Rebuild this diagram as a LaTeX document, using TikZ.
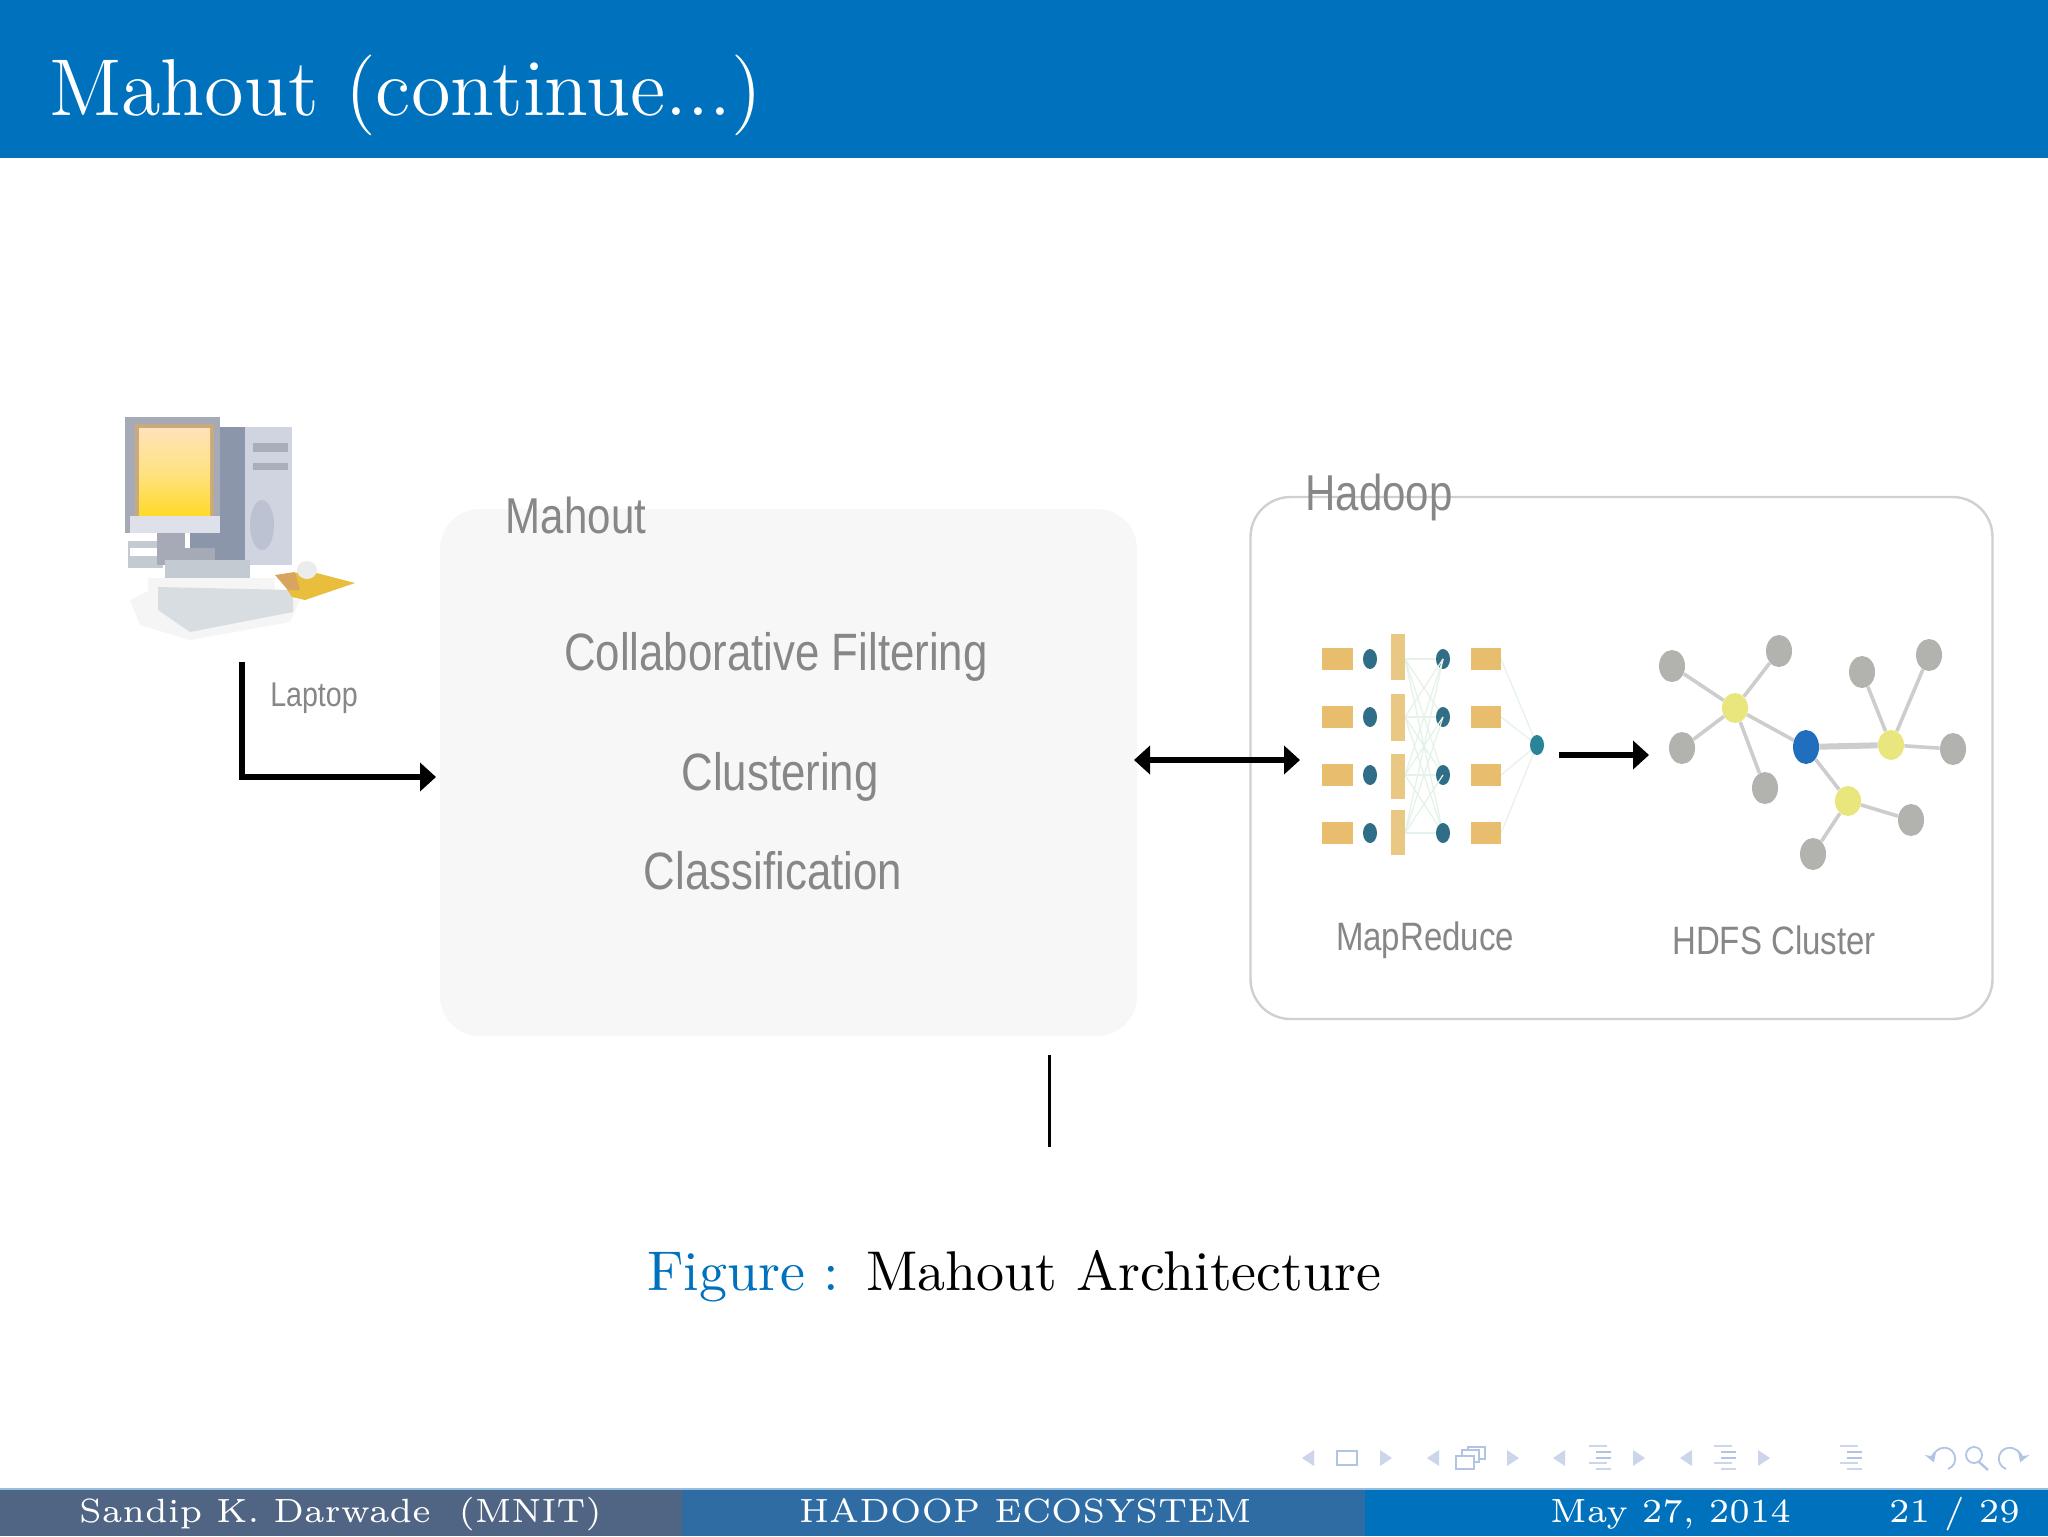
\documentclass[tikz,border=0pt]{standalone}
\usepackage{fontspec}
\newfontfamily\lblfont{Liberation Sans}
\usetikzlibrary{arrows.meta,shapes.geometric}
\definecolor{barblue}{RGB}{0,113,188}
\definecolor{foota}{RGB}{79,101,131}
\definecolor{footb}{RGB}{47,108,163}
\definecolor{footline}{RGB}{150,190,222}
\definecolor{boxgrey}{RGB}{247,247,248}
\definecolor{framegrey}{RGB}{208,208,210}
\definecolor{lblgrey}{RGB}{135,135,137}
\definecolor{mrorange}{RGB}{232,190,110}
\definecolor{mrbar}{RGB}{232,200,130}
\definecolor{mrdot}{RGB}{48,110,135}
\definecolor{mrline}{RGB}{228,242,232}
\definecolor{hgrey}{RGB}{178,178,174}
\definecolor{hyellow}{RGB}{232,230,125}
\definecolor{hblue}{RGB}{32,110,190}
\definecolor{hedge}{RGB}{205,205,205}
\definecolor{navlight}{RGB}{204,213,234}
\definecolor{navdark}{RGB}{178,196,228}
\definecolor{pcframe}{RGB}{165,170,182}
\definecolor{pctan}{RGB}{200,170,125}
\definecolor{pcside}{RGB}{140,150,170}
\definecolor{pcfront}{RGB}{208,212,224}
\definecolor{pcbay}{RGB}{170,174,186}
\definecolor{pcoval}{RGB}{188,194,210}
\definecolor{pcdesk}{RGB}{196,202,210}
\definecolor{pckeys}{RGB}{216,221,226}
\definecolor{pcpad}{RGB}{232,190,60}
\definecolor{pcpadl}{RGB}{215,165,95}
\definecolor{scrtop}{RGB}{255,226,185}
\definecolor{scrmid}{RGB}{255,226,130}
\definecolor{scrbot}{RGB}{255,217,40}
\tikzset{
  slide/.style={transform shape,scale=2.80,inner sep=0pt,anchor=base west,text=white},
  lbl/.style={inner sep=0pt,text=lblgrey,transform shape,yscale=1.2,font=\lblfont\fontsize{#1}{#1}\selectfont},
  arrow/.style={line width=2.7pt,draw=black,-{Triangle[length=8pt,width=14pt]}},
  darrow/.style={line width=2.7pt,draw=black,{Triangle[length=8pt,width=14pt]}-{Triangle[length=8pt,width=14pt]}},
  cedge/.style={draw=hedge,line width=1.8pt},
  cgrey/.style={ellipse,minimum width=13pt,minimum height=16pt,inner sep=0pt,fill=hgrey},
  cyel/.style={ellipse,minimum width=13pt,minimum height=15pt,inner sep=0pt,fill=hyellow},
  mrbox/.style={fill=mrorange},
  mrd/.style={fill=mrdot},
  navt/.style={fill=navlight},
  navl/.style={line width=1.4pt,draw=navlight},
  navk/.style={line width=1.4pt,draw=navdark}
}
\begin{document}
\begin{tikzpicture}[x=0.5pt,y=-0.5pt,line cap=butt]
\useasboundingbox (0,0) rectangle (2048,1536);
\fill[white] (0,0) rectangle (2048,1536);

% header and footer
\fill[barblue] (0,0) rectangle (2048,158);
\node[slide] (title) at (48,115) {\fontsize{14.4}{17}\selectfont Mahout (continue...)};
\fill[foota] (0,1489) rectangle (682,1536);
\fill[footb] (682,1489) rectangle (1365,1536);
\fill[barblue] (1365,1489) rectangle (2048,1536);
\fill[footline] (0,1488) rectangle (2048,1489.5);
\node[slide] (author) at (78,1522) {\fontsize{6}{7}\selectfont Sandip K. Darwade\ \ (MNIT)};
\node[slide] (talk) at (798,1522) {\fontsize{6}{7}\selectfont HADOOP ECOSYSTEM};
\node[slide] (date) at (1549,1522) {\fontsize{6}{7}\selectfont May 27, 2014};
\node[slide] (page) at (1888,1522) {\fontsize{6}{7}\selectfont 21 / 29};

% computer
\fill[gray!8] (130,600) -- (160,585) -- (300,600) -- (290,622) -- (190,640) -- (140,625) -- cycle;
\fill[pcframe] (125,417) rectangle (220,533);
\fill[pctan] (135,424) rectangle (214,520);
\fill[top color=scrtop,bottom color=scrbot,middle color=scrmid] (139,428) rectangle (210,516);
\fill[pcfront!70!white] (130,516) rectangle (220,533);
\fill[pcside] (220,427) rectangle (245,565);
\fill[pcside] (190,533) rectangle (245,560);
\fill[pcfront] (245,427) rectangle (292,565);
\fill[pcbay] (253,443) rectangle (288,452);
\fill[pcbay] (253,463) rectangle (288,470);
\fill[pcoval] (262,525) ellipse [x radius=12,y radius=25];
\fill[pcdesk] (128,541) rectangle (163,568);
\fill[white] (130,548) rectangle (160,556);
\fill[pcframe] (157,533) rectangle (185,565);
\fill[pcdesk] (165,560) rectangle (250,580);
\fill[pcframe] (175,548) rectangle (215,560);
\fill[white!92!gray] (148,578) rectangle (275,590);
\fill[pckeys] (158,587) -- (293,590) -- (293,612) -- (190,632) -- (158,610) -- cycle;
\fill[pcpad] (280,578) -- (305,570) -- (355,583) -- (305,600) -- (292,597) -- cycle;
\fill[pcpadl] (275,575) -- (295,572) -- (300,590) -- (288,590) -- cycle;
\fill[gray!15] (307,570) ellipse [x radius=10,y radius=9];

% mahout box
\node[fill=boxgrey,rounded corners=20pt,minimum width=348.5pt,minimum height=263.5pt,inner sep=0pt] (mahout) at (788.5,772.5) {};
\node[lbl=21] (mahoutlbl) at (576,515) {Mahout};
\node[lbl=21.9] (cf) at (776,657) {Collaborative Filtering};
\node[lbl=21.9] (cl) at (780,777) {Clustering};
\node[lbl=21.9] (cs) at (773,871) {Classification};
\node[lbl=14.3] (laptop) at (314,698) {Laptop};

% hadoop box
\node[draw=framegrey,line width=1.2pt,rounded corners=20pt,minimum width=371pt,minimum height=261pt,inner sep=0pt] (hadoop) at (1621.5,758) {};
\node[lbl=21] (hadooplbl) at (1379,497) {Hadoop};
\node[lbl=16.5] (mr) at (1425,940) {MapReduce};
\node[lbl=16.5] (hdfs) at (1774,940) {HDFS Cluster};

% mapreduce block
\foreach \y in {659,717,775,833} {
  \draw[mrline,line width=0.6pt] (1405,\y) -- (1443,659);
  \draw[mrline,line width=0.6pt] (1405,\y) -- (1443,717);
  \draw[mrline,line width=0.6pt] (1405,\y) -- (1443,775);
  \draw[mrline,line width=0.6pt] (1405,\y) -- (1443,833);
  \draw[mrline,line width=0.6pt] (1501,\y) -- (1537,745);
  \fill[mrbox] (1322,\y-11) rectangle (1353,\y+11);
  \fill[mrbox] (1471,\y-11) rectangle (1501,\y+11);
  \fill[mrd] (1370,\y) ellipse [x radius=7,y radius=10];
  \fill[mrd] (1443,\y) ellipse [x radius=7,y radius=10];
}
\fill[mrbar] (1391,634) rectangle (1405,680);
\fill[mrbar] (1391,694) rectangle (1405,741);
\fill[mrbar] (1391,754) rectangle (1405,799);
\fill[mrbar] (1391,810) rectangle (1405,855);
\fill[mrdot!85!cyan] (1537,745) ellipse [x radius=7,y radius=10];

% hdfs cluster
\node[cyel] (y1) at (1735,708) {};
\node[cyel] (y2) at (1891,745) {};
\node[cyel] (y3) at (1848,801) {};
\node[ellipse,minimum width=13pt,minimum height=17pt,inner sep=0pt,fill=hblue] (b) at (1806,747) {};
\foreach \n/\p in {g1/{1672,666},g2/{1779,651},g3/{1682,748},g4/{1765,788},g5/{1862,672},g6/{1929,655},g7/{1953,749},g8/{1911,820},g9/{1813,854}} {
  \node[cgrey] (\n) at (\p) {};
}
\foreach \a/\c in {y1/g1,y1/g2,y1/g3,y1/g4,y1/b,y2/g5,y2/g6,y2/g7,y3/b,y3/g8,y3/g9} {
  \draw[cedge] (\a) -- (\c);
}
\draw[cedge,line width=3pt] (y2) -- (b);

% arrows
\coordinate (lstart) at (242,662);
\coordinate (lend) at (436,777);
\coordinate (dl) at (1134,760);
\coordinate (dr) at (1300,760);
\coordinate (sl) at (1559,755);
\coordinate (sr) at (1649,755);
\coordinate (bara) at (1049,1055);
\coordinate (barb) at (1049,1147);
\draw[arrow] (lstart) |- (lend);
\draw[darrow] (dl) -- (dr);
\draw[arrow] (sl) -- (sr);
\draw[line width=1.5pt] (bara) -- (barb);

% caption
\node[slide,text=barblue] (figlbl) at (646,1290) {\fontsize{10}{12}\selectfont Figure :};
\node[slide,text=black] (cap) at (865,1290) {\fontsize{10}{12}\selectfont Mahout Architecture};

% navigation symbols
\foreach \x in {1308,1433,1559,1686} {
  \fill[navt] (\x-6,1458) -- (\x+6,1450) -- (\x+6,1466) -- cycle;
}
\foreach \x in {1386,1513,1639,1764} {
  \fill[navt] (\x+6,1458) -- (\x-6,1450) -- (\x-6,1466) -- cycle;
}
\draw[navk] (1337,1451) rectangle (1357,1465);
\draw[navk] (1468,1447) rectangle (1485,1459);
\draw[navk,fill=white] (1462,1450) rectangle (1479,1462);
\draw[navk,fill=white] (1456,1456) rectangle (1474,1469);
\foreach \x in {1600,1725,1851} {
  \draw[navl] (\x-11,1446) -- (\x+7,1446);
  \draw[navk] (\x-4,1452) -- (\x+11,1452);
  \draw[navk] (\x-4,1458) -- (\x+11,1458);
  \draw[navl] (\x-11,1463) -- (\x+7,1463);
  \draw[navl] (\x-4,1469) -- (\x+11,1469);
}
\draw[navk,line width=0.9pt,-{Stealth[length=5pt,width=6pt]}] (1948,1469) arc[start angle=70,end angle=-200,radius=11];
\draw[navk,line width=0.9pt] (1974,1455) circle [radius=8];
\draw[navk,line width=1.2pt] (1979,1462) -- (1988,1470);
\draw[navk,line width=0.9pt,-{Stealth[length=5pt,width=6pt]}] (2006,1469) arc[start angle=110,end angle=380,radius=11];
\end{tikzpicture}
\end{document}
